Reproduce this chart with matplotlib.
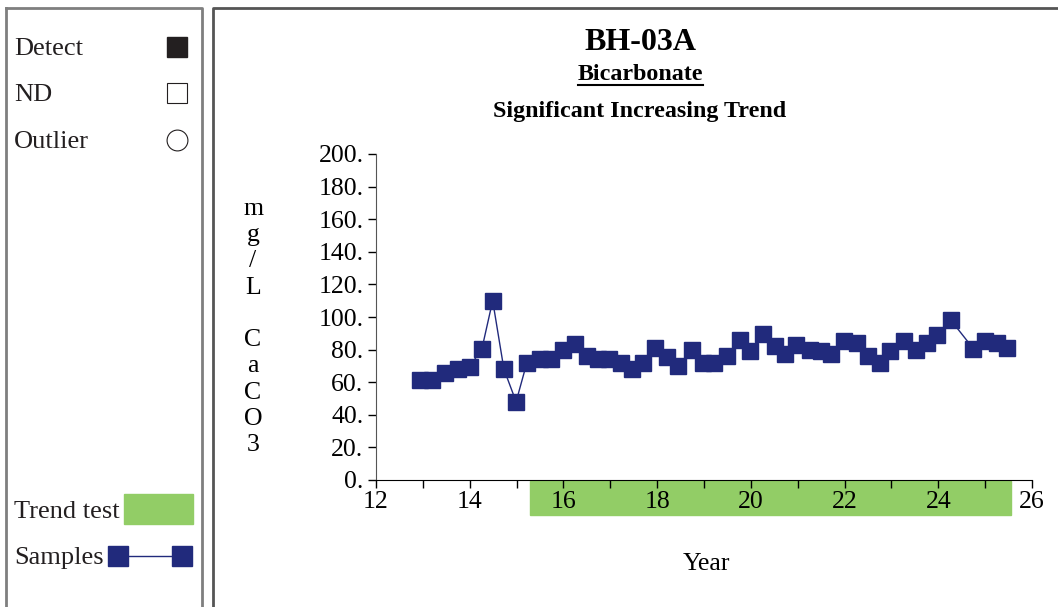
import numpy as np
import matplotlib
matplotlib.use("Agg")
import matplotlib.pyplot as plt
from matplotlib.patches import Rectangle
import matplotlib.transforms as mtransforms

plt.rcParams['font.family'] = ['Liberation Serif', 'DejaVu Serif']

# sample dates (decimal year) and bicarbonate (mg/L CaCO3)
years = [12.94, 13.19, 13.47, 13.75, 14.00, 14.26, 14.49, 14.73, 14.99, 15.22,
         15.50, 15.73, 15.99, 16.24, 16.50, 16.73, 16.97, 17.22, 17.46, 17.70,
         17.96, 18.22, 18.45, 18.74, 18.97, 19.22, 19.50, 19.76, 19.98, 20.25,
         20.51, 20.73, 20.97, 21.26, 21.50, 21.72, 21.99, 22.26, 22.50, 22.76,
         22.97, 23.26, 23.53, 23.76, 23.97, 24.27, 24.75, 25.00, 25.25, 25.46]
conc = [61.5, 61.5, 65.5, 68.0, 69.5, 80.5, 110.0, 68.0, 48.0, 72.0,
        74.0, 74.0, 80.0, 83.5, 76.0, 74.0, 74.0, 72.0, 68.0, 72.0,
        81.0, 75.5, 70.0, 80.0, 72.0, 72.0, 76.0, 86.0, 79.0, 89.5,
        82.0, 77.5, 83.0, 80.0, 79.0, 77.0, 85.0, 84.0, 76.0, 71.5,
        79.0, 85.0, 80.0, 84.0, 89.0, 98.0, 80.5, 85.5, 84.0, 81.0]
trend_start, trend_end = 15.29, 25.55

navy = '#212A7C'
green = '#92CD66'
gray = '#7F7F7F'
fs = 18.5

fig = plt.figure(figsize=(10.58, 6.07), dpi=100)

# background canvas in pixel coords for panels / legend
bg = fig.add_axes([0, 0, 1, 1])
bg.set_xlim(0, 1058)
bg.set_ylim(607, 0)
bg.axis('off')
bg.plot([6, 202, 202], [8, 8, 607], color=gray, lw=2)
bg.plot([6, 6], [8, 607], color=gray, lw=2)
bg.plot([213, 213, 1058], [607, 8, 8], color='#555555', lw=2)

lab = dict(fontsize=19, va='center', ha='left', color='#231F20')
bg.text(14, 49, 'Detect', **lab)
bg.text(14, 95, 'ND', **lab)
bg.text(14, 142, 'Outlier', **lab)
bg.plot([177], [47], 's', ms=14, color='#231F20')
bg.plot([177], [93], 's', ms=14, mfc='white', mec='#231F20', mew=0.8)
bg.plot([177], [140], 'o', ms=15, mfc='white', mec='#231F20', mew=0.8)
bg.text(14, 512, 'Trend test', **lab)
bg.add_patch(Rectangle((124, 494), 69, 30, color=green))
bg.text(14, 558, 'Samples', **lab)
bg.plot([118, 182], [556, 556], '-s', color=navy, ms=14, lw=1, mfc=navy, mec=navy)

# title block
fig.text(640 / 1058, 1 - 42 / 607, 'BH-03A', ha='center', va='center',
         fontsize=23, fontweight='bold')
fig.text(640 / 1058, 1 - 74 / 607, 'Bicarbonate', ha='center', va='center',
         fontsize=17.3, fontweight='bold')
bg.plot([578, 703], [85, 85], color='black', lw=1.5)
fig.text(640 / 1058, 1 - 112 / 607, 'Significant Increasing Trend', ha='center',
         va='center', fontsize=17.3, fontweight='bold')

ax = fig.add_axes([376 / 1058, 1 - 480 / 607, 656 / 1058, 326 / 607])
ax.patch.set_alpha(0)
ax.plot(years, conc, '-s', color=navy, lw=1, ms=11, mfc=navy, mec=navy)

ax.set_xlim(12, 26)
ax.set_ylim(0, 200)
ax.set_xticks(np.arange(12, 27, 2))
ax.set_xticks(np.arange(12, 27, 1), minor=True)
ax.set_yticks(np.arange(0, 201, 20))
ax.set_yticklabels(['%d.' % v for v in range(0, 201, 20)])
ax.tick_params(axis='both', which='both', direction='out', length=6,
               labelsize=fs, width=1)
ax.tick_params(axis='x', pad=2)
ax.tick_params(axis='y', pad=3)
for s in ['top', 'right']:
    ax.spines[s].set_visible(False)
ax.spines['left'].set_color('#555555')
ax.spines['bottom'].set_color('black')

# trend test period below the x axis
trans = mtransforms.blended_transform_factory(ax.transData, ax.transAxes)
ax.add_patch(Rectangle((trend_start, -0.107), trend_end - trend_start, 0.104,
                       transform=trans, color=green, clip_on=False, zorder=0))

fig.text(706 / 1058, 1 - 564 / 607, 'Year', ha='center', va='center',
         fontsize=fs)
fig.text(253 / 1058, 1 - 327 / 607, 'm\ng\n/\nL\n\nC\na\nC\nO\n3',
         ha='center', va='center', fontsize=fs, linespacing=1.25)

fig.savefig('out.png', dpi=100)
